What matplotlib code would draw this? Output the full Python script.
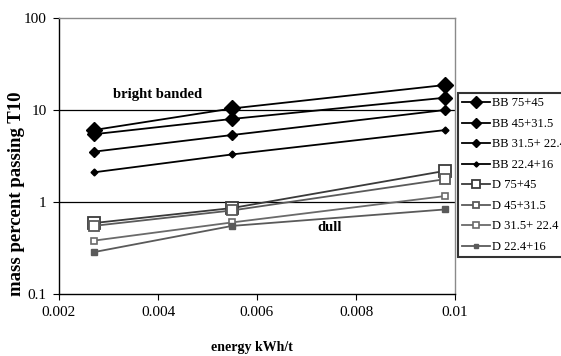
import matplotlib
matplotlib.use("Agg")
import matplotlib.pyplot as plt
from matplotlib.ticker import FixedLocator, NullLocator

energy = [0.0027, 0.0055, 0.0098]
labels = ["BB 75+45", "BB 45+31.5", "BB 31.5+ 22.4", "BB 22.4+16",
          "D 75+45", "D 45+31.5", "D 31.5+ 22.4", "D 22.4+16"]
bb_75_45 = [6.05, 10.4, 18.7]
bb_45_31 = [5.45, 8.0, 13.6]
bb_31_22 = [3.52, 5.35, 10.0]
bb_22_16 = [2.1, 3.29, 6.05]
d_75_45 = [0.59, 0.86, 2.18]
d_45_31 = [0.55, 0.81, 1.77]
d_31_22 = [0.38, 0.60, 1.16]
d_22_16 = [0.285, 0.55, 0.83]
series = [bb_75_45, bb_45_31, bb_31_22, bb_22_16, d_75_45, d_45_31, d_31_22, d_22_16]

styles = [
    dict(color="black", marker="D", ms=8, mfc="black", mec="black"),
    dict(color="black", marker="D", ms=7, mfc="black", mec="black"),
    dict(color="black", marker="D", ms=5, mfc="black", mec="black"),
    dict(color="black", marker="D", ms=3.5, mfc="black", mec="black"),
    dict(color="#3a3a3a", marker="s", ms=8, mfc="white", mec="#3a3a3a", mew=1.3),
    dict(color="#5a5a5a", marker="s", ms=6.5, mfc="white", mec="#5a5a5a", mew=1.3),
    dict(color="#6a6a6a", marker="s", ms=5, mfc="white", mec="#6a6a6a", mew=1.2),
    dict(color="#5a5a5a", marker="s", ms=4, mfc="#5a5a5a", mec="#5a5a5a"),
]

serif = ["Liberation Serif", "DejaVu Serif"]
plt.rcParams["font.family"] = serif

fig = plt.figure(figsize=(5.61, 3.56), dpi=100)
ax = fig.add_axes([59/561, 1-294/356, (455-59)/561, (294-18)/356])

ax.axhline(10, color="black", lw=0.9, zorder=1)
ax.axhline(1, color="black", lw=0.9, zorder=1)

for lab, ys, st in zip(labels, series, styles):
    ax.plot(energy, ys, label=lab, lw=1.3, zorder=3, **st)

ax.set_yscale("log")
ax.set_ylim(0.1, 100)
ax.set_xlim(0.002, 0.01)
ax.yaxis.set_major_locator(FixedLocator([0.1, 1, 10, 100]))
ax.yaxis.set_minor_locator(NullLocator())
ax.set_yticklabels(["0.1", "1", "10", "100"])
ax.set_xticks([0.002, 0.004, 0.006, 0.008, 0.01])
ax.set_xticklabels(["0.002", "0.004", "0.006", "0.008", "0.01"])
ax.tick_params(labelsize=11, direction="out", length=4, color="black", pad=5)

for sp in ax.spines.values():
    sp.set_color("#8a8a8a")
    sp.set_linewidth(1.0)
ax.spines["bottom"].set_color("black")
ax.spines["left"].set_color("black")

fig.text(16.5/561, 1-194/356, "mass percent passing T10", fontsize=13.5, fontweight="bold",
         rotation=90, ha="center", va="center")
fig.text(252/561, 1-351/356, "energy kWh/t", fontsize=10, fontweight="bold",
         ha="center", va="baseline")

ax.text(0.004, 14.6, "bright banded", fontsize=10.5, fontweight="bold", ha="center", va="center")
ax.text(0.00746, 0.53, "dull", fontsize=10.5, fontweight="bold", ha="center", va="center")

leg = fig.legend(loc="upper left", bbox_to_anchor=(458/561, 1-93/356), fontsize=9,
                 frameon=True, fancybox=False, edgecolor="black", handlelength=2.2,
                 labelspacing=0.68, borderpad=0.35, handletextpad=0.2, borderaxespad=0,
                 markerscale=0.75)
leg.get_frame().set_linewidth(1.5)

fig.savefig("out.png", dpi=100)
